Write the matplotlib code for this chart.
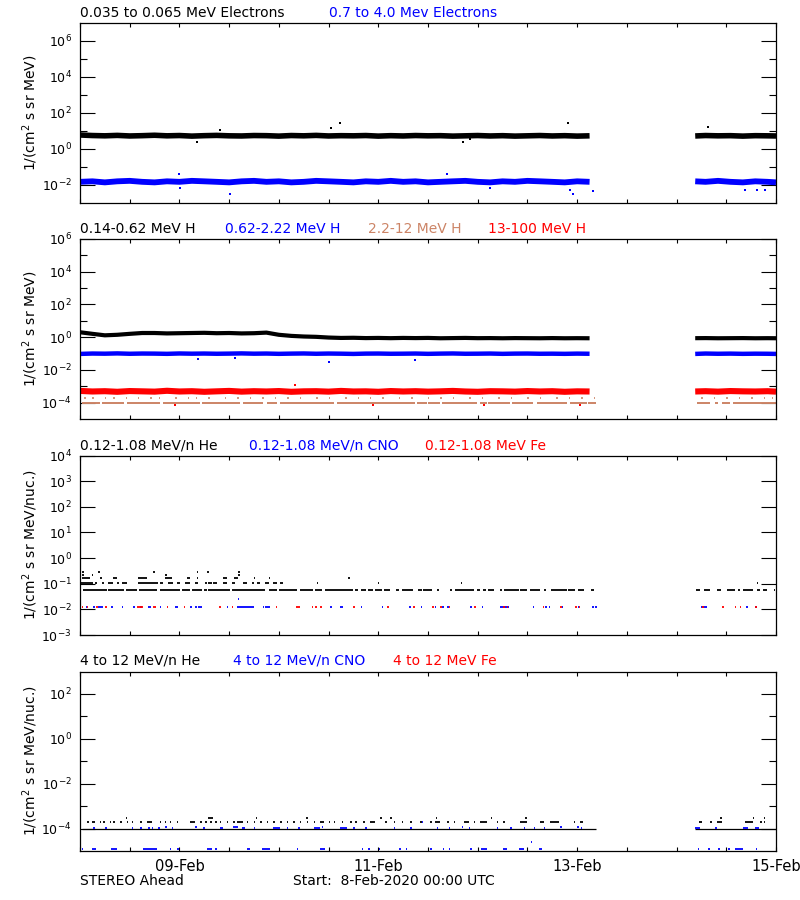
import numpy as np
import matplotlib
matplotlib.use("Agg")
from matplotlib import pyplot as plt
from matplotlib.ticker import FixedLocator, FuncFormatter, NullFormatter

plt.rcParams['font.family'] = ['DejaVu Sans']
plt.rcParams['mathtext.default'] = 'regular'

# time in hours since 8-Feb-2020 00:00 UTC
hours_a = np.arange(0, 125, 3)           # first data stretch, 3-hour samples
hours_b = [148.5, 151, 154, 157, 160, 163, 166, 168]   # after the data gap

# ---- panel 1: electrons ----
elo_a = [6.0, 5.6, 5.4, 5.7, 5.3, 5.5, 5.8, 5.4, 5.6, 5.2, 5.5, 5.7, 5.4, 5.3, 5.6, 5.5, 5.2, 5.6, 5.4, 5.7, 5.3,
         5.5, 5.4, 5.6, 5.2, 5.5, 5.3, 5.6, 5.4, 5.5, 5.2, 5.4, 5.6, 5.3, 5.5, 5.2, 5.4, 5.6, 5.3, 5.5, 5.2, 5.4]
elo_b = [5.3, 5.6, 5.4, 5.5, 5.2, 5.5, 5.4, 5.3]
elo_out_t = [28.2, 33.8, 60.7, 62.8, 92.4, 94.2, 117.7, 151.7]
elo_out_v = [2.5, 11.4, 15.0, 27.0, 2.5, 3.5, 29.0, 17.4]
ehi_a = [0.015, 0.016, 0.014, 0.016, 0.017, 0.015, 0.014, 0.016, 0.015, 0.017, 0.016, 0.015, 0.014, 0.016,
         0.017, 0.015, 0.016, 0.014, 0.015, 0.017, 0.016, 0.015, 0.014, 0.016, 0.015, 0.017, 0.015, 0.016,
         0.014, 0.015, 0.016, 0.017, 0.015, 0.014, 0.016, 0.015, 0.017, 0.016, 0.015, 0.014, 0.016, 0.015]
ehi_b = [0.016, 0.015, 0.017, 0.015, 0.014, 0.016, 0.015, 0.014]
ehi_out_t = [24.0, 24.1, 36.2, 88.5, 99.0, 118.3, 118.9, 123.8, 160.5, 163.3, 165.4]
ehi_out_v = [0.041, 0.0066, 0.0032, 0.041, 0.0066, 0.0053, 0.0032, 0.0048, 0.005, 0.005, 0.0055]

# ---- panel 2: protons ----
h1_a = [2.0, 1.6, 1.3, 1.4, 1.6, 1.8, 1.8, 1.7, 1.75, 1.8, 1.85, 1.75, 1.8, 1.7, 1.75, 1.9, 1.4, 1.2, 1.1, 1.05,
        0.95, 0.9, 0.92, 0.88, 0.9, 0.87, 0.9, 0.88, 0.9, 0.86, 0.88, 0.9, 0.87, 0.88, 0.86, 0.88, 0.87, 0.86,
        0.88, 0.86, 0.87, 0.86]
h1_b = [0.87, 0.88, 0.86, 0.87, 0.88, 0.86, 0.87, 0.86]
h2_a = [0.095, 0.1, 0.098, 0.102, 0.097, 0.1, 0.099, 0.096, 0.101, 0.098, 0.1, 0.097, 0.099, 0.102, 0.098,
        0.1, 0.096, 0.099, 0.101, 0.097, 0.1, 0.098, 0.095, 0.099, 0.1, 0.097, 0.098, 0.1, 0.096, 0.099,
        0.101, 0.097, 0.098, 0.1, 0.096, 0.099, 0.1, 0.097, 0.098, 0.096, 0.099, 0.097]
h2_b = [0.095, 0.1, 0.097, 0.099, 0.096, 0.098, 0.097, 0.095]
h2_out_t = [28.5, 37.4, 60.0, 80.9]
h2_out_v = [0.046, 0.05, 0.032, 0.04]
h4_a = [5.2e-4, 4.8e-4, 5.0e-4, 4.6e-4, 5.1e-4, 4.9e-4, 4.7e-4, 5.3e-4, 4.8e-4, 5.0e-4, 4.6e-4, 4.9e-4,
        5.2e-4, 4.7e-4, 5.0e-4, 4.8e-4, 5.1e-4, 4.6e-4, 4.9e-4, 5.0e-4, 4.7e-4, 5.2e-4, 4.8e-4, 4.9e-4,
        4.6e-4, 5.1e-4, 4.8e-4, 5.0e-4, 4.7e-4, 4.9e-4, 5.2e-4, 4.8e-4, 4.6e-4, 5.0e-4, 4.9e-4, 4.7e-4,
        5.1e-4, 4.8e-4, 5.0e-4, 4.6e-4, 4.9e-4, 4.8e-4]
h4_b = [4.8e-4, 5.0e-4, 4.7e-4, 5.1e-4, 4.9e-4, 4.8e-4, 5.0e-4, 4.7e-4]
h4_out_t = [51.9, 22.9, 70.8, 97.4, 120.7]
h4_out_v = [1.2e-3, 7e-5, 7e-5, 7e-5, 7e-5]
h3_lvl1 = 9e-5
h3_seg1 = [(0.4, 4.8), (5.2, 10.5), (11.3, 19.3), (20.1, 29.0), (29.4, 38.6), (39.4, 44.2), (45.1, 47.5),
           (48.3, 61.2), (62.0, 77.3), (77.2, 80.9), (81.3, 83.7), (84.1, 86.9), (87.3, 95.8), (96.6, 98.2),
           (98.6, 103.8), (104.2, 109.4), (110.2, 117.5), (118.3, 122.3), (122.7, 124.5), (148.9, 152.1),
           (153.3, 154.1), (154.9, 156.9), (157.7, 168.0)]
h3_lvl2 = 1.8e-4
h3_dots2 = [1, 3, 6, 8, 11, 14, 17, 19, 23, 26, 28, 31, 35, 38, 41, 44, 47, 50, 53, 57, 60, 64, 67, 70, 73, 77,
            80, 84, 87, 90, 94, 97, 101, 104, 108, 111, 115, 118, 121, 124, 150, 153, 156, 159, 162, 165, 167]

# ---- panel 3: 0.12-1.08 MeV/n heavy ions (one count = one level step) ----
he3_levels = [0.055, 0.11, 0.165, 0.22, 0.275]
he3_segs = [
    [(0.8, 6.4), (6.8, 10.5), (11.1, 13.7), (14.3, 18.5), (19.3, 24.1), (24.5, 26.6), (27.0, 29.4),
     (29.9, 30.6), (31.0, 36.2), (36.6, 44.7), (45.5, 47.5), (48.1, 52.3), (53.0, 56.3), (56.7, 58.3),
     (59.2, 66.0), (66.4, 67.2), (67.8, 69.1), (69.6, 70.8), (71.3, 72.9), (73.3, 74.9), (76.3, 77.1),
     (77.7, 80.5), (81.7, 82.5), (82.9, 84.9), (86.1, 86.6), (89.4, 89.8), (90.6, 95.0), (95.8, 96.6),
     (97.3, 98.1), (98.6, 100.0), (101.4, 101.9), (102.4, 105.9), (106.3, 107.9), (108.7, 111.1),
     (112.1, 112.4), (113.7, 117.5), (117.9, 119.5), (120.1, 121.7), (123.3, 124.0), (148.7, 149.7),
     (150.6, 152.1), (153.7, 154.7), (156.1, 158.1), (158.9, 159.2), (160.1, 162.5), (163.4, 164.2),
     (164.8, 165.8), (167.5, 167.8)],
    [(0.0, 3.2), (3.6, 4.0), (5.2, 5.8), (6.8, 8.0), (8.9, 9.3), (10.1, 11.3), (14.1, 18.9), (19.3, 20.1),
     (21.3, 22.5), (23.3, 24.2), (25.4, 26.6), (27.8, 28.6), (30.2, 30.6), (31.0, 31.8), (32.2, 33.0),
     (34.6, 35.4), (36.6, 37.4), (39.4, 40.3), (41.5, 41.9), (42.7, 43.5), (44.7, 45.5), (46.7, 47.5),
     (48.3, 48.9), (57.1, 57.1), (71.9, 71.9), (91.9, 91.9), (163.3, 163.3)],
    [(0.4, 2.4), (4.8, 5.2), (8.0, 8.9), (14.1, 16.1), (20.5, 22.1), (25.8, 26.6), (28.2, 28.6),
     (34.6, 35.4), (37.2, 38.2), (41.9, 42.3), (45.5, 45.9), (64.8, 64.8)],
    [(0.6, 0.8), (2.8, 3.2), (20.5, 20.9), (38.2, 38.6)],
    [(0.6, 1.0), (4.4, 4.7), (17.7, 18.0), (28.2, 28.5), (30.7, 31.1), (38.2, 38.6)],
]
cno3_lvl = 0.012
cno3_segs = [(1.4, 1.4), (3.1, 3.6), (4.4, 5.6), (7.6, 7.6), (10.1, 10.1), (12.9, 13.3), (14.5, 14.5),
             (16.5, 17.1), (19.3, 19.3), (22.9, 23.7), (26.6, 26.6), (27.8, 27.8), (28.6, 29.4), (35.4, 35.4),
             (37.8, 41.9), (44.1, 44.1), (44.7, 45.9), (60.4, 60.4), (62.8, 63.6), (67.8, 67.8), (72.9, 72.9),
             (79.5, 79.5), (82.3, 82.3), (85.7, 85.7), (87.4, 87.4), (88.6, 88.6), (94.2, 94.2), (97.0, 97.0),
             (101.4, 103.5), (109.3, 109.3), (112.3, 112.3), (113.1, 113.5), (116.3, 116.3), (120.1, 120.1),
             (123.6, 123.6), (124.4, 124.4), (149.9, 151.3), (160.8, 160.8), (163.0, 163.0)]
cno3_hi = [(38.1, 38.1)]
fe3_segs = [(0.4, 0.8), (1.6, 1.6), (3.9, 3.9), (6.0, 6.6), (13.7, 15.3), (17.7, 18.4), (20.9, 20.9),
            (25.0, 25.0), (33.6, 34.0), (36.6, 36.6), (47.2, 47.2), (52.2, 53.1), (55.9, 55.9), (56.7, 57.2),
            (58.0, 58.0), (66.0, 66.0), (74.2, 74.2), (80.5, 80.5), (84.9, 85.5), (87.0, 87.0), (89.0, 89.0),
            (95.2, 95.2), (102.2, 102.2), (103.0, 103.0), (111.7, 111.7), (115.9, 115.9), (119.5, 119.5),
            (120.4, 120.4), (150.2, 150.2), (154.9, 155.5), (158.1, 158.1), (159.3, 159.3), (163.0, 163.0)]

# ---- panel 4: 4-12 MeV/n heavy ions ----
he4_levels = [1e-4, 2e-4, 3e-4]
he4_segs = [
    [(0.4, 124.5), (148.5, 168.0)],
    [(1.8, 1.8), (2.8, 3.6), (4.8, 4.8), (5.6, 5.6), (7.2, 7.2), (8.0, 8.5), (9.7, 9.7), (11.3, 11.3),
     (12.5, 12.5), (14.5, 14.5), (16.1, 17.3), (19.3, 19.3), (20.5, 20.5), (21.7, 21.7), (23.3, 23.3),
     (26.6, 27.8), (29.0, 29.0), (30.2, 30.2), (31.4, 31.4), (32.6, 32.6), (33.8, 33.8), (35.4, 35.4),
     (37.0, 37.0), (37.8, 39.4), (40.3, 40.3), (41.9, 41.9), (43.5, 43.5), (45.1, 45.1), (46.7, 46.7),
     (48.3, 48.3), (49.9, 49.9), (51.5, 51.5), (53.1, 53.1), (54.7, 54.7), (56.4, 56.4), (58.0, 58.8),
     (60.0, 60.0), (61.2, 61.2), (63.2, 63.2), (65.2, 65.2), (66.4, 66.4), (68.4, 68.4), (70.0, 71.3),
     (73.7, 73.7), (75.7, 75.7), (77.7, 77.7), (79.7, 79.7), (82.1, 82.1), (84.5, 84.5), (85.7, 87.0),
     (88.6, 88.6), (90.2, 90.2), (92.6, 93.8), (95.0, 95.0), (96.6, 98.2), (100.6, 100.6), (102.2, 102.2),
     (106.3, 107.9), (111.1, 111.9), (113.5, 115.5), (119.2, 119.2), (120.8, 121.4), (149.3, 150.1),
     (152.1, 152.1), (153.7, 154.9), (160.5, 162.5), (164.2, 164.2), (165.1, 165.1)],
    [(11.0, 11.0), (31.0, 32.2), (42.4, 42.4), (54.6, 54.6), (72.5, 72.5), (74.9, 74.9), (85.9, 85.9),
     (99.2, 99.2), (107.5, 108.0), (154.5, 154.5), (162.4, 162.4), (165.1, 165.1)],
]
cno4_levels = [1.05e-4, 1.2e-4, 2e-4, 1.2e-5, 2.5e-5]
cno4_segs = [
    [(3.2, 3.6), (6.0, 6.4), (12.5, 12.9), (14.5, 14.5), (16.5, 16.5), (17.3, 17.3), (18.9, 18.9),
     (22.1, 22.1), (29.8, 29.8), (33.8, 34.6), (39.0, 39.8), (41.9, 41.9), (46.7, 48.3), (49.9, 49.9),
     (52.7, 52.7), (56.4, 58.0), (62.8, 64.4), (66.0, 66.0), (68.8, 69.2), (75.7, 75.7), (79.7, 79.7),
     (86.1, 86.1), (89.0, 89.0), (93.8, 93.8), (100.6, 100.6), (103.9, 103.9), (107.1, 107.1),
     (109.5, 109.5), (111.9, 111.9), (120.9, 120.9), (148.5, 149.7), (153.3, 153.3), (160.1, 161.3),
     (163.0, 163.8)],
    [(20.5, 20.9), (27.8, 27.8), (37.0, 38.2), (58.4, 58.4), (92.2, 92.2), (115.9, 115.9), (120.0, 120.0)],
    [(82.5, 82.5)],
    [(0.4, 0.8), (2.8, 3.9), (7.6, 8.9), (15.3, 18.5), (21.7, 21.7), (23.3, 24.0), (30.6, 31.8),
     (32.6, 32.6), (40.3, 41.1), (43.9, 45.9), (52.3, 52.3), (58.0, 59.2), (68.0, 68.0), (69.6, 70.0),
     (72.1, 72.1), (77.1, 77.1), (78.7, 78.7), (84.5, 84.5), (87.6, 87.6), (89.0, 89.0), (94.2, 94.2),
     (96.8, 98.2), (102.0, 103.0), (105.9, 107.1), (110.7, 111.5), (149.1, 149.1), (151.7, 151.7),
     (154.1, 154.1), (156.5, 156.5), (158.1, 160.1), (163.1, 163.1)],
    [(108.8, 108.8)],
]

xtick_hours = np.arange(0, 169, 12)
xlabel_map = {24: '09-Feb', 72: '11-Feb', 120: '13-Feb', 168: '15-Feb'}

TAN = '#CC8466'

fig = plt.figure(figsize=(8, 9), dpi=100)


def px_axes(top, bottom):
    return fig.add_axes([80 / 800, 1 - bottom / 900, 696 / 800, (bottom - top) / 900])


def style(ax, ylo, yhi, majors, minors, show_x=False):
    ax.set_xlim(0, 168)
    ax.set_yscale('log')
    ax.set_ylim(10.0 ** ylo, 10.0 ** yhi)
    ax.yaxis.set_major_locator(FixedLocator([10.0 ** e for e in majors]))
    ax.yaxis.set_minor_locator(FixedLocator([10.0 ** e for e in minors]))
    ax.yaxis.set_major_formatter(FuncFormatter(lambda v, p: r'$10^{%d}$' % int(round(np.log10(v)))))
    ax.yaxis.set_minor_formatter(NullFormatter())
    ax.tick_params(axis='y', which='major', direction='in', length=11, width=0.8, right=True,
                   labelsize=9, pad=6)
    ax.tick_params(axis='y', which='minor', direction='in', length=5, width=0.8, right=True)
    ax.xaxis.set_major_locator(FixedLocator(xtick_hours))
    ax.xaxis.set_minor_locator(FixedLocator([]))
    if show_x:
        ax.set_xticklabels([xlabel_map.get(int(h), '') for h in xtick_hours])
    else:
        ax.set_xticklabels([])
    ax.tick_params(axis='x', which='major', direction='in', length=3, width=0.8, top=True,
                   labelsize=10.5, pad=6)
    for s in ax.spines.values():
        s.set_linewidth(0.9)


def band(ax, values_a, values_b, color, lw):
    ax.plot(hours_a, values_a, color=color, lw=lw, solid_capstyle='butt')
    ax.plot(hours_b, values_b, color=color, lw=lw, solid_capstyle='butt')


def dashes(ax, level, segs, color, lw=1.3):
    starts = [a for a, b in segs]
    ends = [max(b, a + 0.35) for a, b in segs]
    ax.hlines([level] * len(segs), starts, ends, colors=color, lw=lw)


def title_row(y, parts):
    for x, s, c in parts:
        fig.text(x / 800, 1 - y / 900, s, color=c, fontsize=10, ha='left', va='center')


# panel 1
ax1 = px_axes(23, 203)
band(ax1, elo_a, elo_b, 'black', 4.0)
ax1.plot(elo_out_t, elo_out_v, 's', color='black', ms=1.8, mew=0)
band(ax1, ehi_a, ehi_b, 'blue', 4.2)
ax1.plot(ehi_out_t, ehi_out_v, 's', color='blue', ms=1.8, mew=0)
style(ax1, -3, 7, [-2, 0, 2, 4, 6], [-1, 1, 3, 5])

# panel 2
ax2 = px_axes(239, 419)
dashes(ax2, h3_lvl1, h3_seg1, TAN, 1.4)
dashes(ax2, h3_lvl2, [(t, t) for t in h3_dots2], TAN, 1.2)
band(ax2, h4_a, h4_b, 'red', 4.4)
ax2.plot(h4_out_t, h4_out_v, 's', color='red', ms=1.8, mew=0)
band(ax2, h1_a, h1_b, 'black', 3.0)
band(ax2, h2_a, h2_b, 'blue', 3.2)
ax2.plot(h2_out_t, h2_out_v, 's', color='blue', ms=1.8, mew=0)
style(ax2, -5, 6, [-4, -2, 0, 2, 4, 6], [-3, -1, 1, 3, 5])

# panel 3
ax3 = px_axes(455.5, 635)
for lvl, segs in zip(he3_levels, he3_segs):
    dashes(ax3, lvl, segs, 'black')
dashes(ax3, cno3_lvl, cno3_segs, 'blue')
dashes(ax3, cno3_lvl, fe3_segs, 'red')
dashes(ax3, 0.0245, cno3_hi, 'blue')
style(ax3, -3, 4, [-3, -2, -1, 0, 1, 2, 3, 4], [])

# panel 4
ax4 = px_axes(671.5, 851)
dashes(ax4, he4_levels[0], he4_segs[0], 'black', 0.9)
for lvl, segs in zip(he4_levels[1:], he4_segs[1:]):
    dashes(ax4, lvl, segs, 'black')
for lvl, segs in zip(cno4_levels, cno4_segs):
    dashes(ax4, lvl, segs, 'blue')
style(ax4, -5, 3, [-4, -2, 0, 2], [-3, -1, 1], show_x=True)

# titles above the panels
title_row(13, [(80, '0.035 to 0.065 MeV Electrons', 'black'), (329, '0.7 to 4.0 Mev Electrons', 'blue')])
title_row(229, [(80, '0.14-0.62 MeV H', 'black'), (225, '0.62-2.22 MeV H', 'blue'),
                (368, '2.2-12 MeV H', TAN), (488, '13-100 MeV H', 'red')])
title_row(445.5, [(80, '0.12-1.08 MeV/n He', 'black'), (249, '0.12-1.08 MeV/n CNO', 'blue'),
                  (425, '0.12-1.08 MeV Fe', 'red')])
title_row(661, [(80, '4 to 12 MeV/n He', 'black'), (233, '4 to 12 MeV/n CNO', 'blue'),
                (393, '4 to 12 MeV Fe', 'red')])

# y labels
for yc, lab in [(113, '1/(cm$^2$ s sr MeV)'), (329, '1/(cm$^2$ s sr MeV)'),
                (545, '1/(cm$^2$ s sr MeV/nuc.)'), (761, '1/(cm$^2$ s sr MeV/nuc.)')]:
    fig.text(30 / 800, 1 - yc / 900, lab, rotation=90, fontsize=10, ha='center', va='center')

fig.text(80 / 800, 1 - 881 / 900, 'STEREO Ahead', fontsize=10, ha='left', va='center')
fig.text(293 / 800, 1 - 881 / 900, 'Start:  8-Feb-2020 00:00 UTC', fontsize=10, ha='left', va='center')

fig.savefig('out.png', dpi=100)
